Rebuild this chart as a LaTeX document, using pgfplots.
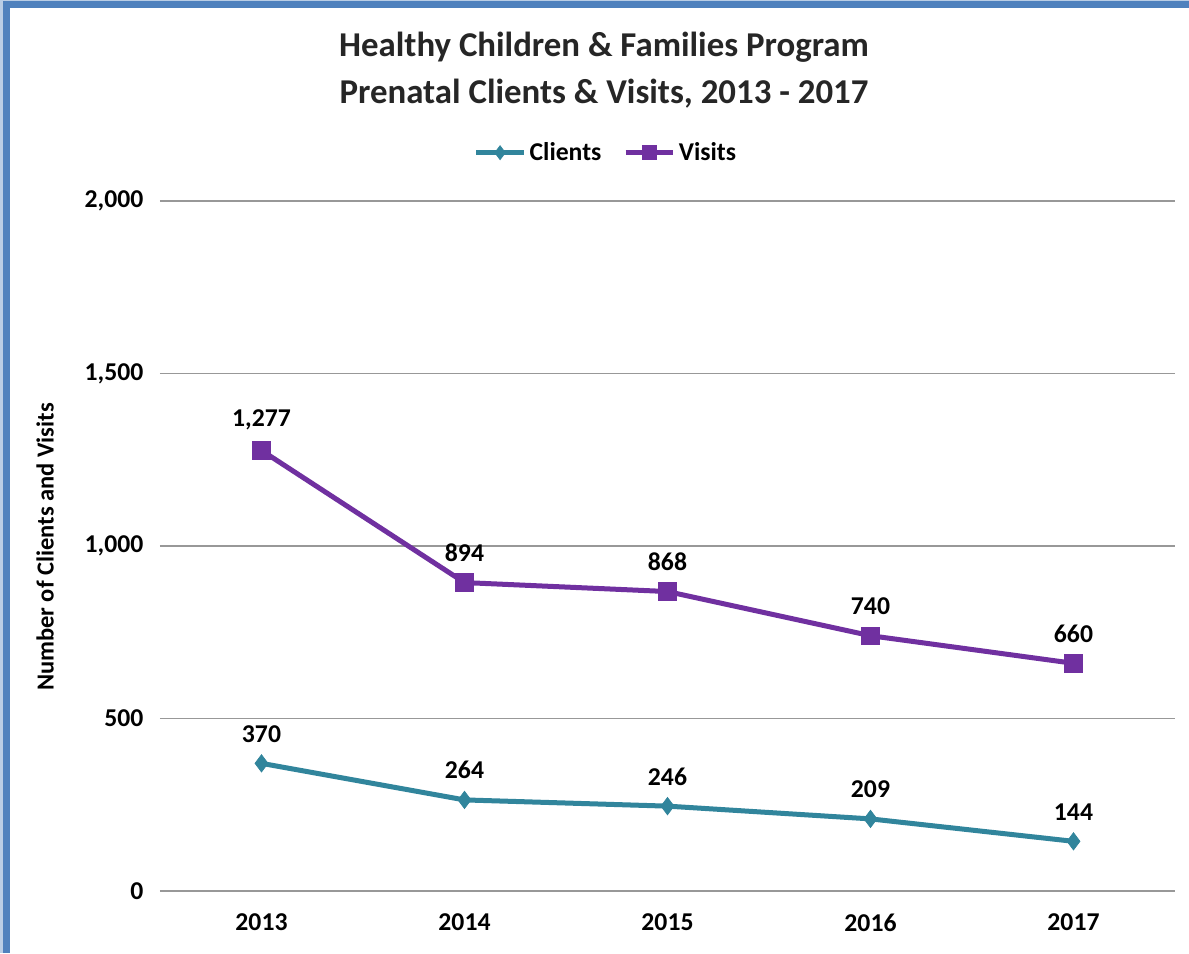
\documentclass[border=0pt]{standalone}
\usepackage{fontspec}
\setmainfont{Carlito}
\usepackage{pgfplots}
\pgfplotsset{compat=1.18}
\definecolor{clients}{HTML}{31859C}
\definecolor{visits}{HTML}{7030A0}
\definecolor{framec}{HTML}{4F81BD}
\definecolor{framel}{HTML}{B9CDE5}
\definecolor{gridc}{HTML}{989898}
\begin{document}
\begin{tikzpicture}[x=0.6pt,y=0.6pt]
\useasboundingbox (0,0) rectangle (1189,953);
\fill[white] (0,0) rectangle (1189,953);
% frame
\draw[framel, line width=6pt] (3,0) -- (3,950) -- (1189,950);
\draw[framec, line width=4.2pt] (6.5,0) -- (6.5,948) -- (1189,948);
% titles
\node[font=\fontsize{20.9}{24}\selectfont\bfseries, text=black!85] at (604,906) {Healthy Children \& Families Program};
\node[font=\fontsize{20.9}{24}\selectfont\bfseries, text=black!85] at (604,859) {Prenatal Clients \& Visits, 2013 - 2017};
\node[font=\fontsize{14.7}{17}\selectfont\bfseries, rotate=90] at (45,406) {Number of Clients and Visits};
\begin{axis}[
  at={(96pt,37.2pt)}, anchor=south west,
  scale only axis, width=609pt, height=414pt,
  xmin=-0.5, xmax=4.5, ymin=0, ymax=2000,
  xtick={0,1,2,3,4}, xticklabels={2013,2014,2015,2016,2017},
  ytick={0,500,1000,1500,2000},
  axis line style={draw=none},
  major tick length=0pt,
  ymajorgrids, grid style={gridc, line width=0.9pt},
  /pgf/number format/assume math mode=true,
  /pgf/number format/1000 sep={,},
  tick label style={font=\fontsize{15.4}{18}\selectfont\bfseries},
  yticklabel style={anchor=east, xshift=-6.5pt},
  xticklabel style={anchor=north, yshift=-10pt},
  legend style={at={(0.44,1.07)}, anchor=center, draw=none, fill=none,
    legend columns=2, font=\fontsize{15.4}{18}\selectfont\bfseries,
    /tikz/every even column/.append style={column sep=11pt}},
  legend image code/.code={
    \draw[#1, mark size=4.2pt, mark repeat=2, mark phase=2] plot coordinates {(0cm,0cm) (0.5cm,0cm) (1cm,0cm)};},
  nodes near coords,
  every node near coord/.append style={font=\fontsize{15.4}{18}\selectfont\bfseries, text=black, yshift=9pt},
]
\addplot[clients, line width=3pt, mark=diamond*, mark size=5.2pt, mark options={solid, line width=0.4pt}] coordinates {(0,370) (1,264) (2,246) (3,209) (4,144)};
\addlegendentry{Clients}
\addplot[visits, line width=3pt, mark=square*, mark size=5.3pt, mark options={solid, line width=0.4pt}] coordinates {(0,1277) (1,894) (2,868) (3,740) (4,660)};
\addlegendentry{Visits}
\end{axis}
\end{tikzpicture}
\end{document}
